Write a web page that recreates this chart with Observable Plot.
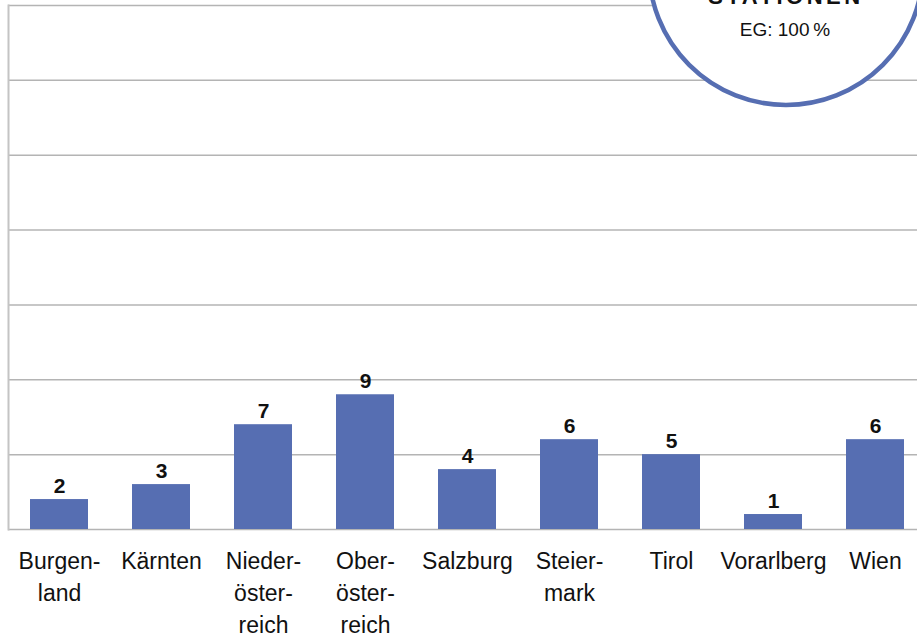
<!DOCTYPE html>
<html>
<head>
<meta charset="utf-8">
<script src="https://cdn.jsdelivr.net/npm/d3@7"></script>
<script src="https://cdn.jsdelivr.net/npm/@observablehq/plot@0.6"></script>
<style>
  html, body { margin: 0; padding: 0; background: #fff; overflow: hidden; }
  #chart { width: 917px; height: 639px; }
</style>
</head>
<body>
<div id="chart"></div>
<script>
// Stationen je Bundesland
const regions = ["Burgenland", "Kärnten", "Niederösterreich", "Oberösterreich", "Salzburg", "Steiermark", "Tirol", "Vorarlberg", "Wien"];
const regionLabels = ["Burgen-\nland", "Kärnten", "Nieder-\nöster-\nreich", "Ober-\nöster-\nreich", "Salzburg", "Steier-\nmark", "Tirol", "Vorarlberg", "Wien"];
const stations = [2, 3, 7, 9, 4, 6, 5, 1, 6];
const gridTicks = [0, 5, 10, 15, 20, 25, 30, 35];
const badgeTitle = "STATIONEN";
const badgeNote = "EG: 100\u2009%";

const data = regions.map((r, i) => ({region: r, value: stations[i]}));
const labelOf = new Map(regions.map((r, i) => [r, regionLabels[i]]));

const blue = "#566eb2";
const font = "'Liberation Sans', Arial, sans-serif";

// Runder Hinweis oben rechts
function badge(index, scales, values, dims) {
  const g = d3.create("svg:g");
  const cx = 786;
  g.append("circle")
    .attr("cx", cx).attr("cy", -32).attr("r", 137)
    .attr("fill", "#fff").attr("stroke", blue).attr("stroke-width", 4.5);
  g.append("text")
    .attr("x", cx).attr("y", 4)
    .attr("text-anchor", "middle")
    .attr("font-family", font).attr("font-weight", "bold")
    .attr("font-size", 22).attr("letter-spacing", "3.5px")
    .attr("fill", "#111")
    .text(badgeTitle);
  g.append("text")
    .attr("x", cx - 1).attr("y", 36)
    .attr("text-anchor", "middle")
    .attr("font-family", font).attr("font-size", 19)
    .attr("fill", "#111")
    .text(badgeNote);
  return g.node();
}

const chart = Plot.plot({
  width: 917,
  height: 639,
  marginLeft: 8,
  marginRight: 0,
  marginTop: 5,
  marginBottom: 110,
  style: {fontFamily: font, background: "#fff"},
  x: {domain: regions, range: [8, 926], paddingInner: 0.43, paddingOuter: 0.215, label: null},
  y: {domain: [0, 35], label: null, axis: null},
  marks: [
    Plot.ruleY(gridTicks, {stroke: "#b4b4b4", strokeWidth: 1.5}),
    Plot.frame({anchor: "left", stroke: "#c4c4c4", strokeWidth: 2}),
    Plot.barY(data, {x: "region", y: "value", fill: blue}),
    Plot.text(data, {
      x: "region", y: "value", text: d => String(d.value),
      lineAnchor: "bottom", dy: -7,
      fontSize: 21, fontWeight: "bold", fill: "#111"
    }),
    Plot.axisX({
      tickSize: 0, tickPadding: 17,
      tickFormat: d => labelOf.get(d),
      fontSize: 23, lineHeight: 1.39, lineAnchor: "top",
      fill: "#111", label: null
    }),
    badge
  ]
});

document.getElementById("chart").appendChild(chart);
</script>
</body>
</html>
